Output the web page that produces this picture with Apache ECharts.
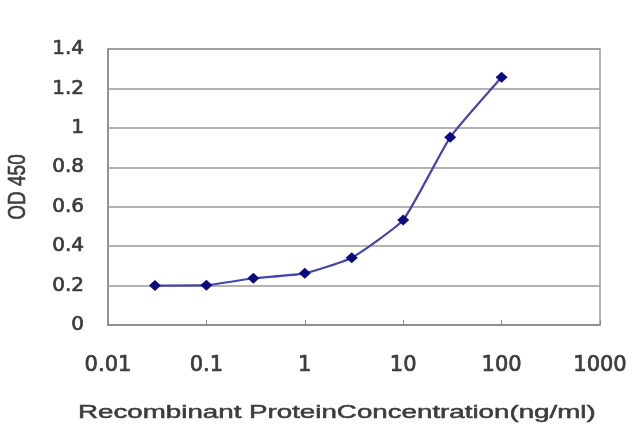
<!DOCTYPE html>
<html><head><meta charset="utf-8">
<script src="https://cdn.jsdelivr.net/npm/echarts@6/dist/echarts.min.js"></script>
<style>html,body{margin:0;padding:0;background:#fff}#c{width:640px;height:427px}</style>
</head><body><div id="c"></div>
<script>
const concentrations = [0.03, 0.1, 0.3, 1, 3, 10, 30, 100];
const odValues = [0.2, 0.202, 0.237, 0.262, 0.341, 0.533, 0.952, 1.257];
const xTickLabels = ['0.01', '0.1', '1', '10', '100', '1000'];
const yAxisTitle = 'OD 450';
const xAxisTitle = 'Recombinant ProteinConcentration(ng/ml)';

const chart = echarts.init(document.getElementById('c'), null, {renderer: 'canvas'});
const tickFont = 'DejaVu Sans, Verdana, sans-serif';
const titleFont = 'Liberation Sans, Arial, sans-serif';
const textColor = '#3c3c3c';
const thicken = {textBorderColor: '#3c3c3c', textBorderWidth: 0.7};
chart.setOption({
  animation: false,
  grid: {left: 108, right: 40, top: 49, bottom: 102, show: true, borderColor: '#9a9a9a', borderWidth: 1.5},
  xAxis: {
    type: 'log', logBase: 10, min: 0.01, max: 1000,
    axisLine: {show: true, lineStyle: {color: '#8a8a8a', width: 1.5}},
    axisTick: {show: true, inside: true, length: 5, lineStyle: {color: '#8a8a8a'}},
    splitLine: {show: false},
    axisLabel: Object.assign({
      margin: 30, fontSize: 21, color: textColor, fontFamily: tickFont,
      formatter: function (v) {
        const e = Math.round(Math.log10(v));
        return xTickLabels[e + 2];
      }
    }, thicken)
  },
  yAxis: {
    type: 'value', min: 0, max: 1.4, interval: 0.2,
    axisLine: {show: true, lineStyle: {color: '#8a8a8a', width: 1.5}},
    axisTick: {show: false},
    splitLine: {show: true, lineStyle: {color: '#9a9a9a', width: 1.5}},
    axisLabel: Object.assign({margin: 24, fontSize: 20, color: textColor, fontFamily: tickFont}, thicken)
  },
  graphic: [
    {type: 'text', x: 78, y: 413, scaleX: 1.54, style: Object.assign({text: xAxisTitle, fontSize: 18, fill: textColor, fontFamily: titleFont, verticalAlign: 'middle', stroke: '#3c3c3c', lineWidth: 0.5})},
    {type: 'text', x: 7, y: 187, rotation: Math.PI / 2, scaleY: 1.25, style: {text: yAxisTitle, fontSize: 19, fill: textColor, fontFamily: titleFont, align: 'center', verticalAlign: 'top', stroke: '#3c3c3c', lineWidth: 0.5}}
  ],
  series: [{
    type: 'line',
    data: concentrations.map((c, i) => [c, odValues[i]]),
    smooth: 0.15,
    symbol: 'diamond', symbolSize: [12, 11],
    itemStyle: {color: '#0a0a80'},
    lineStyle: {color: '#4444aa', width: 2.2}
  }]
});
</script></body></html>
